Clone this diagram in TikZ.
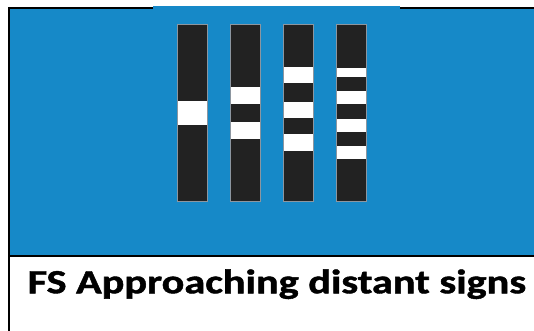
\documentclass[tikz,border=0pt]{standalone}
\usepackage{fontspec}
\setmainfont{Carlito}[BoldFeatures={FakeBold=1.2}]
\definecolor{signblue}{RGB}{22,137,200}
\definecolor{bardark}{RGB}{34,34,34}
\definecolor{baredge}{RGB}{140,150,160}
\begin{document}
\begin{tikzpicture}[x=1pt,y=-1pt,
  barbox/.style={fill=bardark,draw=baredge,line width=0.6pt},
  stripe/.style={fill=white},
  frameline/.style={line width=2pt,black}]
\useasboundingbox (0,0) rectangle (534,331);
\fill[white] (0,0) rectangle (534,331);
% blue panel
\fill[signblue] (9,8) rectangle (534,255);
\fill[signblue] (153,6.5) rectangle (400,9);
% frame lines
\draw[frameline] (9,8) -- (153,8);
\draw[frameline] (400,8) -- (534,8);
\draw[frameline] (9,7) -- (9,331);
\draw[frameline] (9,256) -- (534,256);
% bars
\draw[barbox] (177.5,24) rectangle (207,201);
\draw[barbox] (230.7,24) rectangle (260.3,201);
\draw[barbox] (283.6,24) rectangle (313.3,201);
\draw[barbox] (336.6,24) rectangle (366,201);
% stripes
\fill[stripe] (177.5,100.7) rectangle (207,125.3);
\fill[stripe] (230.7,87) rectangle (260.3,104.3);
\fill[stripe] (230.7,122) rectangle (260.3,139.3);
\fill[stripe] (283.6,66.7) rectangle (313.3,83.3);
\fill[stripe] (283.6,101.7) rectangle (313.3,117.7);
\fill[stripe] (283.6,134.3) rectangle (313.3,151);
\fill[stripe] (336.6,67.7) rectangle (366,77.3);
\fill[stripe] (336.6,91) rectangle (366,104.3);
\fill[stripe] (336.6,119) rectangle (366,132.3);
\fill[stripe] (336.6,145.7) rectangle (366,158.7);
% caption
\node[anchor=base west,inner sep=0pt,xscale=1.243,font=\fontsize{34}{41}\selectfont\bfseries] (cap) at (27.5,293.3) {FS Approaching distant signs};
\end{tikzpicture}
\end{document}
